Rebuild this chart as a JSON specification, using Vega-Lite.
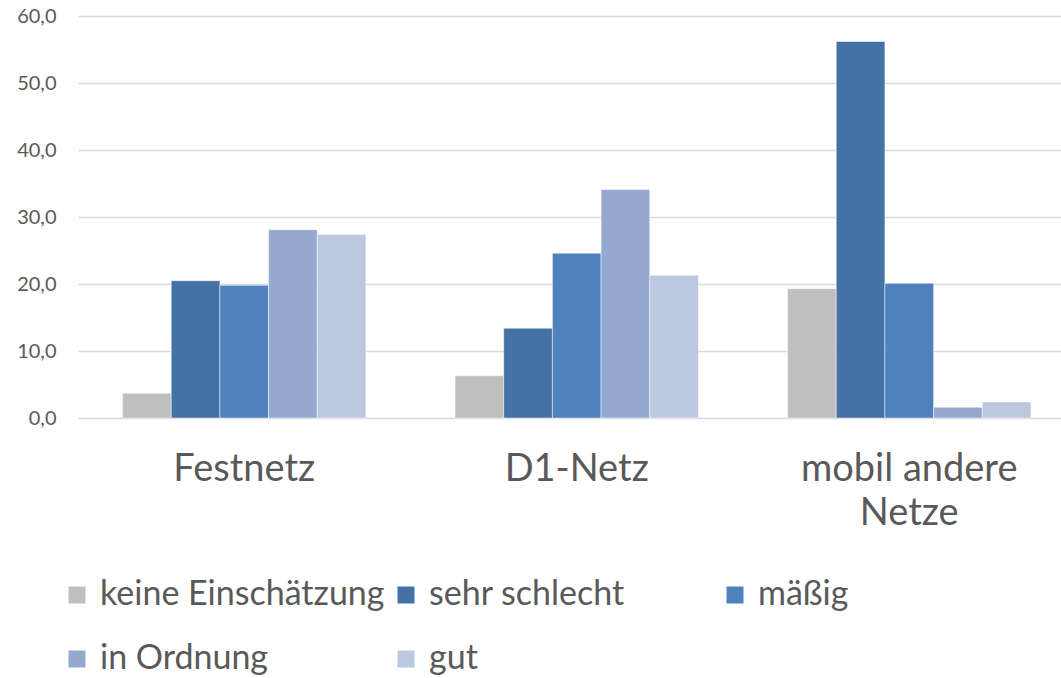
{
  "$schema": "https://vega.github.io/schema/vega-lite/v6.json",
  "autosize": "none",
  "padding": {"left": 78, "top": 16, "right": 0, "bottom": 260},
  "width": 983,
  "height": 402,
  "background": "white",
  "config": {"view": {"stroke": null}, "font": "Lato"},
  "data": {"values": [
    {"netz": "Festnetz", "einschaetzung": "keine Einschätzung", "wert": 3.7},
    {"netz": "Festnetz", "einschaetzung": "sehr schlecht", "wert": 20.5},
    {"netz": "Festnetz", "einschaetzung": "mäßig", "wert": 19.8},
    {"netz": "Festnetz", "einschaetzung": "in Ordnung", "wert": 28.1},
    {"netz": "Festnetz", "einschaetzung": "gut", "wert": 27.4},
    {"netz": "D1-Netz", "einschaetzung": "keine Einschätzung", "wert": 6.3},
    {"netz": "D1-Netz", "einschaetzung": "sehr schlecht", "wert": 13.4},
    {"netz": "D1-Netz", "einschaetzung": "mäßig", "wert": 24.6},
    {"netz": "D1-Netz", "einschaetzung": "in Ordnung", "wert": 34.1},
    {"netz": "D1-Netz", "einschaetzung": "gut", "wert": 21.3},
    {"netz": "mobil andere Netze", "einschaetzung": "keine Einschätzung", "wert": 19.3},
    {"netz": "mobil andere Netze", "einschaetzung": "sehr schlecht", "wert": 56.2},
    {"netz": "mobil andere Netze", "einschaetzung": "mäßig", "wert": 20.1},
    {"netz": "mobil andere Netze", "einschaetzung": "in Ordnung", "wert": 1.6},
    {"netz": "mobil andere Netze", "einschaetzung": "gut", "wert": 2.4}
  ]},
  "mark": {"type": "bar", "stroke": "white", "strokeWidth": 0.8, "strokeOpacity": 0.6},
  "encoding": {
    "x": {
      "field": "netz", "type": "nominal",
      "sort": ["Festnetz", "D1-Netz", "mobil andere Netze"],
      "scale": {"range": [0, 997.5], "paddingInner": 0.268, "paddingOuter": 0.134},
      "axis": {
        "title": null, "domain": false, "ticks": false, "tickSize": 0, "grid": false,
        "labelAngle": 0, "labelFont": "Lato", "labelFontSize": 38, "labelColor": "#595959",
        "labelPadding": 32, "labelLineHeight": 44, "labelLimit": 400,
        "labelExpr": "datum.label == 'mobil andere Netze' ? ['mobil andere', 'Netze'] : datum.label"
      }
    },
    "xOffset": {
      "field": "einschaetzung", "type": "nominal",
      "sort": ["keine Einschätzung", "sehr schlecht", "mäßig", "in Ordnung", "gut"],
      "scale": {"paddingInner": 0, "paddingOuter": 0}
    },
    "y": {
      "field": "wert", "type": "quantitative",
      "scale": {"domain": [0, 60], "nice": false},
      "axis": {
        "title": null, "domain": false, "ticks": false, "tickSize": 0,
        "values": [0, 10, 20, 30, 40, 50, 60],
        "grid": true, "gridColor": "#D9D9D9", "gridWidth": 1.3,
        "labelFont": "Lato", "labelFontSize": 20, "labelColor": "#595959", "labelPadding": 22,
        "labelExpr": "replace(format(datum.value, '.1f'), '.', ',')"
      }
    },
    "color": {
      "field": "einschaetzung", "type": "nominal",
      "sort": ["keine Einschätzung", "sehr schlecht", "mäßig", "in Ordnung", "gut"],
      "scale": {
        "domain": ["keine Einschätzung", "sehr schlecht", "mäßig", "in Ordnung", "gut"],
        "range": ["#BFBFBF", "#4472A7", "#4F81BD", "#95A9D0", "#BCC8E0"]
      },
      "legend": {
        "title": null, "orient": "none", "direction": "horizontal", "columns": 3,
        "legendX": -18, "legendY": 562, "padding": 0,
        "gridAlign": "all", "columnPadding": 4, "rowPadding": 30,
        "symbolType": "square", "symbolSize": 289, "symbolStrokeWidth": 0,
        "labelFont": "Lato", "labelFontSize": 34, "labelColor": "#595959",
        "labelOffset": 6, "labelLimit": 400
      }
    }
  }
}
